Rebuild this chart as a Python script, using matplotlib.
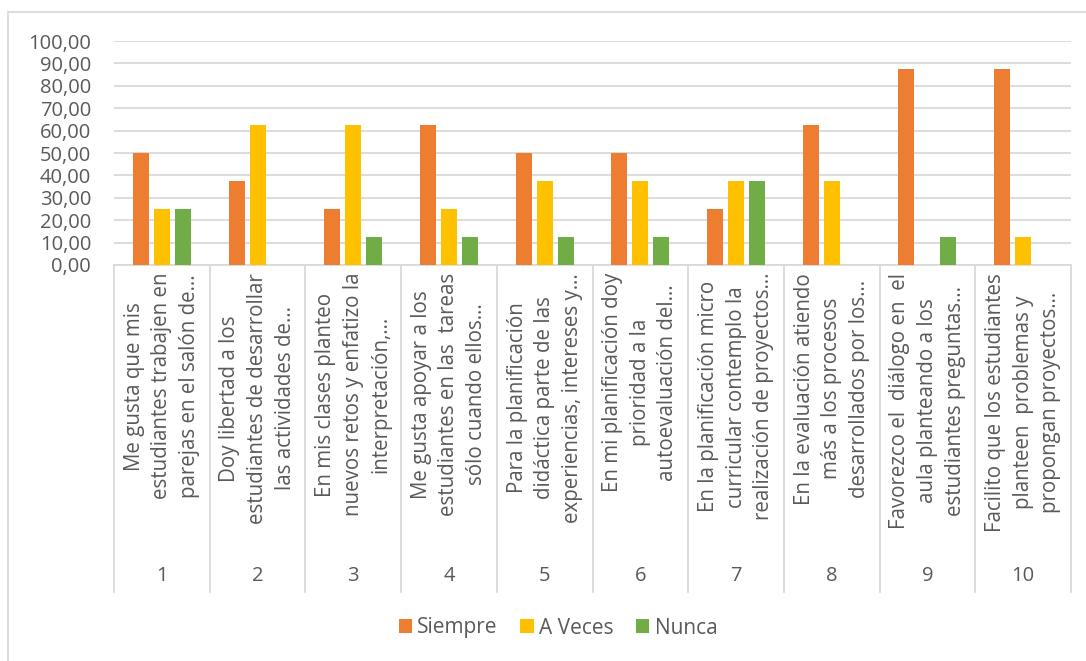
import matplotlib
matplotlib.use("Agg")
import matplotlib.pyplot as plt
import matplotlib.transforms as mtransforms
from matplotlib.patches import Patch, Rectangle
import numpy as np

plt.rcParams['font.family'] = ['Open Sans', 'DejaVu Sans']

# Survey answers (%) per statement
series = ['Siempre', 'A Veces', 'Nunca']
siempre = [50.0, 37.5, 25.0, 62.5, 50.0, 50.0, 25.0, 62.5, 87.5, 87.5]
a_veces = [25.0, 62.5, 62.5, 25.0, 37.5, 37.5, 37.5, 37.5, 0.0, 12.5]
nunca = [25.0, 0.0, 12.5, 12.5, 12.5, 12.5, 37.5, 0.0, 12.5, 0.0]
numbers = ['1', '2', '3', '4', '5', '6', '7', '8', '9', '10']
statements = [
    "Me gusta que mis\nestudiantes trabajen en\nparejas en el salón de…",
    "Doy libertad a los\nestudiantes de desarrollar\nlas actividades de…",
    "En mis clases planteo\nnuevos retos y enfatizo la\ninterpretación,…",
    "Me gusta apoyar a los\nestudiantes en las  tareas\nsólo cuando ellos…",
    "Para la planificación\ndidáctica parte de las\nexperiencias, intereses y…",
    "En mi planificación doy\nprioridad a la\nautoevaluación del…",
    "En la planificación micro\ncurricular contemplo la\nrealización de proyectos…",
    "En la evaluación atiendo\nmás a los procesos\ndesarrollados por los…",
    "Favorezco el  diálogo en  el\naula planteando a los\nestudiantes preguntas…",
    "Facilito que los estudiantes\nplanteen  problemas y\npropongan proyectos…",
]
colors = ['#ED7D31', '#FFC000', '#70AD47']
text_color = '#595959'
grid_color = '#D9D9D9'
fs_tick = 14.5
fs_cat = 14.8

W, H = 1086, 661
fig = plt.figure(figsize=(W / 100, H / 100), dpi=100)
ax = fig.add_axes([114 / W, 1 - 265 / H, (1071 - 114) / W, (265 - 41) / H])

# outer chart border
fig.patches.append(Rectangle((8 / W, -0.05), 1.1, 1 - 12 / H + 0.05,
                             transform=fig.transFigure, fill=False,
                             edgecolor=grid_color, linewidth=1.3))

x = np.arange(len(numbers)) + 0.5
bw = 16 / 95.7
step = 21 / 95.7
for k, vals in enumerate([siempre, a_veces, nunca]):
    ax.bar(x + (k - 1) * step, vals, width=bw, color=colors[k], zorder=3)

ax.set_xlim(0, len(numbers))
ax.set_ylim(0, 100)
ax.set_yticks(np.arange(0, 101, 10))
ax.set_yticklabels([f"{v:.2f}".replace('.', ',') for v in np.arange(0, 101, 10)])
ax.tick_params(axis='y', length=0, pad=16.5, labelsize=fs_tick, colors=text_color)
ax.set_xticks([])
ax.grid(axis='y', color=grid_color, linewidth=1.3, zorder=0)
for s in ax.spines.values():
    s.set_visible(False)

# multi-level category table below the plot
trans = mtransforms.blended_transform_factory(ax.transData, ax.transAxes)
table_bottom = -(592 - 265) / 224
ax.plot([0, len(numbers)], [0, 0], transform=trans, color=grid_color,
        linewidth=1.3, clip_on=False)
for i in range(len(numbers) + 1):
    ax.plot([i, i], [0, table_bottom], transform=trans, color=grid_color,
            linewidth=1.3, clip_on=False)
for i, (num, txt) in enumerate(zip(numbers, statements)):
    ax.text(i + 0.5, -8 / 224, txt, transform=trans, rotation=90,
            ha='center', va='top', multialignment='center',
            fontsize=fs_cat, color=text_color, linespacing=1.41)
    ax.text(i + 0.5, -(576 - 265) / 224, num, transform=trans,
            ha='center', va='center', fontsize=fs_tick, color=text_color)

handles = [Patch(facecolor=c) for c in colors]
fig.legend(handles, series, loc='center', bbox_to_anchor=(558 / W, 1 - 628 / H),
           ncol=3, frameon=False, handlelength=0.63, handleheight=0.63,
           handletextpad=0.25, columnspacing=1.1, fontsize=15,
           labelcolor=text_color)

fig.savefig('out.png', dpi=100, facecolor='white')
